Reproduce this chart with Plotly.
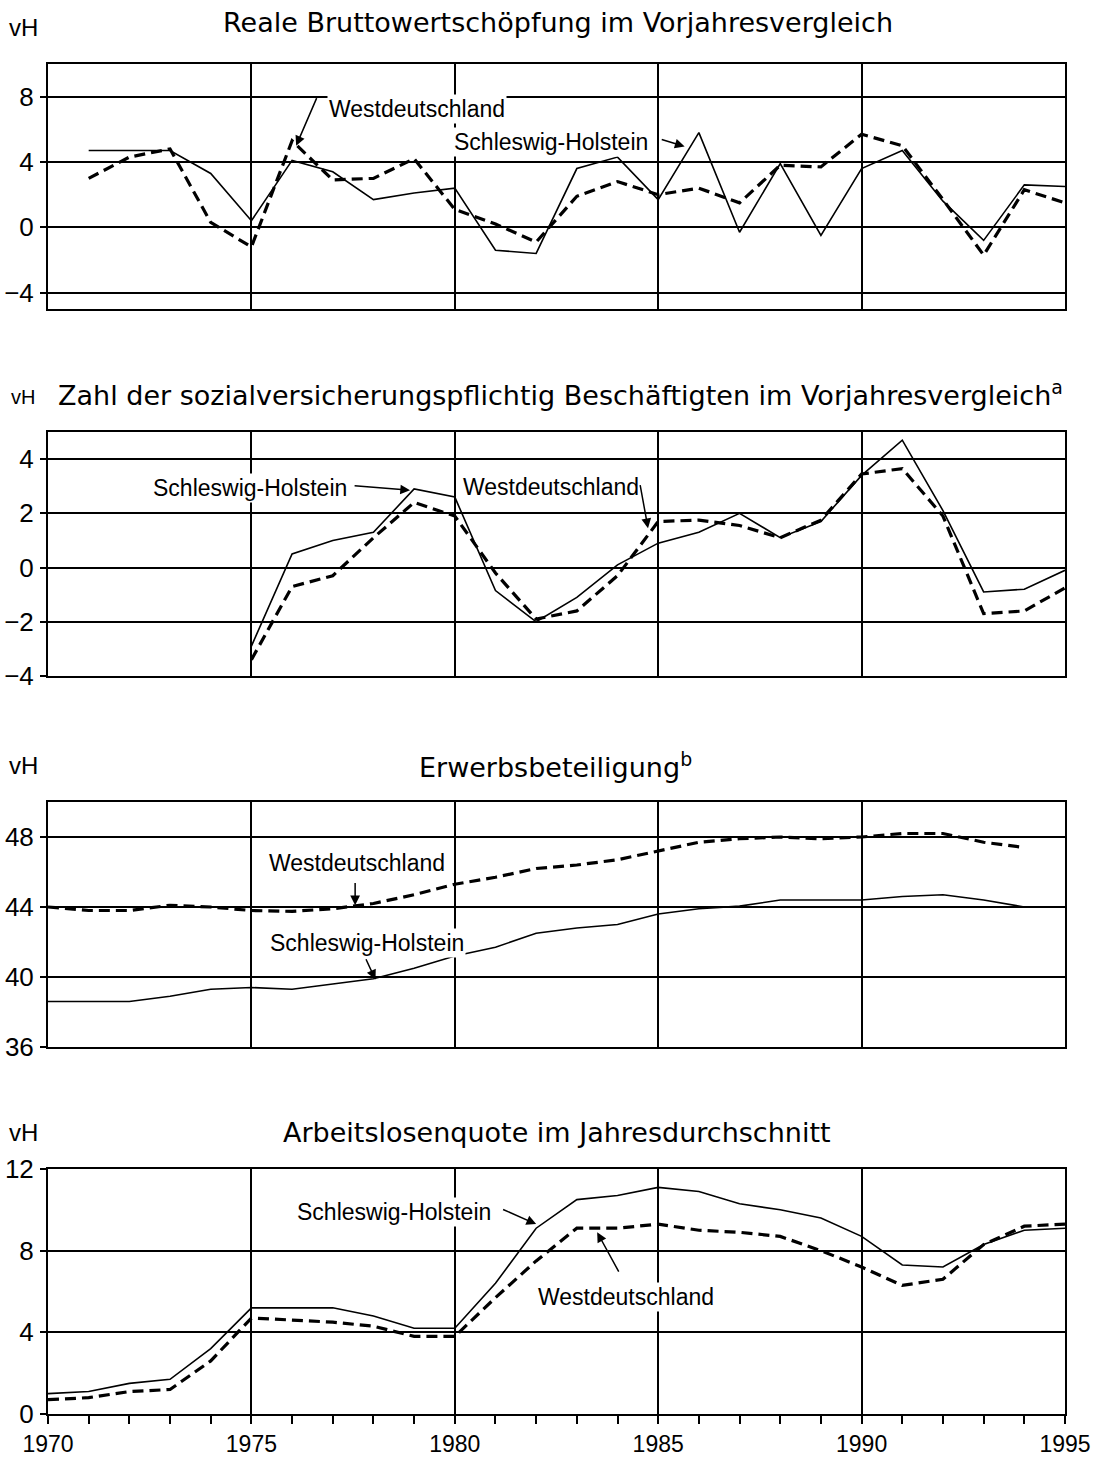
import plotly.graph_objects as go

# ---------------- data ----------------
bws_years = list(range(1971, 1996))
bws_sh = [4.7, 4.7, 4.7, 3.3, 0.4, 4.1, 3.4, 1.7, 2.1, 2.4, -1.4, -1.6, 3.6, 4.3, 1.7,
          5.8, -0.3, 3.9, -0.5, 3.6, 4.7, 1.6, -0.8, 2.6, 2.5]
bws_wd = [3.0, 4.3, 4.8, 0.3, -1.2, 5.3, 2.9, 3.0, 4.2, 1.1, 0.2, -0.9, 1.9, 2.8, 2.0,
          2.4, 1.5, 3.8, 3.7, 5.7, 5.0, 1.7, -1.7, 2.3, 1.5]

sv_years = list(range(1975, 1996))
sv_sh = [-2.9, 0.5, 1.0, 1.3, 2.9, 2.6, -0.85, -2.0, -1.1, 0.1, 0.9, 1.3, 2.0, 1.1, 1.7,
         3.4, 4.7, 2.1, -0.9, -0.8, -0.1]
sv_wd = [-3.4, -0.7, -0.3, 1.1, 2.4, 1.9, -0.2, -1.9, -1.6, -0.3, 1.7, 1.75, 1.55, 1.1,
         1.75, 3.45, 3.65, 1.9, -1.7, -1.6, -0.75]

eb_years = list(range(1970, 1995))
eb_sh = [38.6, 38.6, 38.6, 38.9, 39.3, 39.4, 39.3, 39.6, 39.9, 40.5, 41.2, 41.7, 42.5,
         42.8, 43.0, 43.6, 43.9, 44.05, 44.4, 44.4, 44.4, 44.6, 44.7, 44.4, 44.0]
eb_wd = [44.0, 43.8, 43.8, 44.1, 44.0, 43.8, 43.75, 43.9, 44.2, 44.7, 45.3, 45.7, 46.2,
         46.4, 46.7, 47.2, 47.7, 47.9, 48.0, 47.9, 48.0, 48.2, 48.2, 47.7, 47.4]

al_years = list(range(1970, 1996))
al_sh = [1.0, 1.1, 1.5, 1.7, 3.2, 5.2, 5.2, 5.2, 4.8, 4.2, 4.2, 6.4, 9.1, 10.5, 10.7,
         11.1, 10.9, 10.3, 10.0, 9.6, 8.7, 7.3, 7.2, 8.3, 9.0, 9.1]
al_wd = [0.7, 0.8, 1.1, 1.2, 2.6, 4.7, 4.6, 4.5, 4.3, 3.8, 3.8, 5.7, 7.5, 9.1, 9.1,
         9.3, 9.0, 8.9, 8.7, 8.0, 7.2, 6.3, 6.6, 8.3, 9.2, 9.3]

titles = ["Reale Bruttowertschöpfung im Vorjahresvergleich",
          "Zahl der sozialversicherungspflichtig Beschäftigten im Vorjahresvergleich<sup>a</sup>",
          "Erwerbsbeteiligung<sup>b</sup>",
          "Arbeitslosenquote im Jahresdurchschnitt"]
y_ranges = [[-5, 10], [-4, 5], [36, 50], [0, 12]]
y_ticks = [[-4, 0, 4, 8], [-4, -2, 0, 2, 4], [36, 40, 44, 48], [0, 4, 8, 12]]
label_sh = "Schleswig-Holstein"
label_wd = "Westdeutschland"

# ---------------- layout geometry ----------------
W, H = 1101, 1457
ML, MR, MT, MB = 48, 36, 64, 43
PH = H - MT - MB
PW = W - ML - MR


def py(p):
    return 1 - (p - MT) / PH


def px(p):
    return (p - ML) / PW


panels_px = [(64, 309), (432, 676), (802, 1047), (1169, 1414)]
domains = [[py(b), py(t)] for t, b in panels_px]
domains[0][1] = 1.0
domains[3][0] = 0.0

fig = go.Figure()
series = [(bws_years, bws_sh, bws_wd), (sv_years, sv_sh, sv_wd),
          (eb_years, eb_sh, eb_wd), (al_years, al_sh, al_wd)]
for i, (xs, sh, wd) in enumerate(series):
    sfx = "" if i == 0 else str(i + 1)
    fig.add_trace(go.Scatter(x=xs, y=sh, mode="lines", xaxis="x" + sfx, yaxis="y" + sfx,
                             line=dict(color="black", width=1.6), showlegend=False))
    fig.add_trace(go.Scatter(x=xs, y=wd, mode="lines", xaxis="x" + sfx, yaxis="y" + sfx,
                             line=dict(color="black", width=3.2, dash="11px,6px"),
                             showlegend=False))

TICKFONT = dict(family="Liberation Sans, Arial, sans-serif", size=26, color="black")
layout = dict(width=W, height=H, margin=dict(l=ML, r=MR, t=MT, b=MB, autoexpand=False),
              plot_bgcolor="white", paper_bgcolor="white", showlegend=False)
for i in range(4):
    sfx = "" if i == 0 else str(i + 1)
    xa = dict(domain=[0, 1], range=[1970, 1995], anchor="y" + sfx, automargin=False,
              showline=True, linewidth=2, linecolor="black", mirror=True,
              showgrid=True, gridcolor="black", gridwidth=1.5,
              tickmode="linear", tick0=1970, dtick=5, zeroline=False,
              tickfont=TICKFONT)
    if i < 3:
        xa.update(showticklabels=False, ticks="")
    else:
        xa.update(ticks="outside", ticklen=8, tickwidth=1.5, tickcolor="black",
                  minor=dict(dtick=1, tick0=1970, ticks="outside", ticklen=8,
                             tickwidth=1.5, tickcolor="black", showgrid=False),
                  tickfont=dict(family="Liberation Sans, Arial, sans-serif", size=23,
                                color="black"))
    ya = dict(domain=domains[i], range=y_ranges[i], anchor="x" + sfx, automargin=False,
              showline=True, linewidth=2, linecolor="black", mirror=True,
              showgrid=True, gridcolor="black", gridwidth=1.5, zeroline=False,
              tickmode="array", tickvals=y_ticks[i], ticks="outside", ticklen=6,
              tickwidth=1.5, tickcolor="black", tickfont=TICKFONT, ticklabelstandoff=1)
    layout["xaxis" + sfx] = xa
    layout["yaxis" + sfx] = ya
fig.update_layout(**layout)

TITLEFONT = dict(family="DejaVu Sans, sans-serif", size=27, color="black")
ANNFONT = dict(family="Liberation Sans, Arial, sans-serif", size=23, color="black")
VHFONT = dict(family="Liberation Sans, Arial, sans-serif", size=24, color="black")

ann = []
# titles
title_pos = [(558, 22), (560, 393), (555, 765), (557, 1132)]
for t, (x, y) in zip(titles, title_pos):
    ann.append(dict(text=t, x=px(x), y=py(y), xref="paper", yref="paper",
                    xanchor="center", yanchor="middle", showarrow=False, font=TITLEFONT))
for y, s in [(27, 24), (397, 20), (765, 24), (1132, 24)]:
    ann.append(dict(text="vH", x=px(23), y=py(y), xref="paper", yref="paper",
                    xanchor="center", yanchor="middle", showarrow=False,
                    font=dict(VHFONT, size=s)))


def label(text, sfx, x, y, xanchor):
    ann.append(dict(text=text, x=x, y=y, xref="x" + sfx, yref="y" + sfx,
                    xanchor=xanchor, yanchor="middle", showarrow=False, font=ANNFONT,
                    bgcolor="white", borderpad=1))


def arrow(sfx, x0, y0, x1, y1):
    ann.append(dict(text="", x=x1, y=y1, ax=x0, ay=y0, xref="x" + sfx, yref="y" + sfx,
                    axref="x" + sfx, ayref="y" + sfx, showarrow=True, arrowhead=2,
                    arrowsize=1.3, arrowwidth=1.5, arrowcolor="black", standoff=0))


# panel 1
label(label_wd, "", 1976.85, 7.25, "left")
arrow("", 1976.62, 8.0, 1976.1, 5.0)
label(label_sh, "", 1984.8, 5.25, "right")
arrow("", 1985.05, 5.4, 1985.65, 4.95)
# panel 2
label(label_sh, "2", 1977.4, 2.95, "right")
arrow("2", 1977.5, 3.02, 1978.9, 2.85)
label(label_wd, "2", 1980.15, 2.98, "left")
arrow("2", 1984.55, 3.1, 1984.75, 1.45)
# panel 3
label(label_wd, "3", 1977.6, 46.5, "center")
arrow("3", 1977.55, 45.45, 1977.55, 44.1)
label(label_sh, "3", 1977.85, 41.95, "center")
arrow("3", 1977.8, 41.1, 1978.05, 39.85)
# panel 4
label(label_sh, "4", 1980.95, 9.9, "right")
arrow("4", 1981.15, 10.05, 1982.0, 9.3)
label(label_wd, "4", 1982.0, 5.75, "left")
arrow("4", 1984.05, 6.9, 1983.5, 8.9)

fig.update_layout(annotations=ann)
fig.write_html("out.html", config={"displayModeBar": False},
               post_script="document.body.style.margin='0';")
